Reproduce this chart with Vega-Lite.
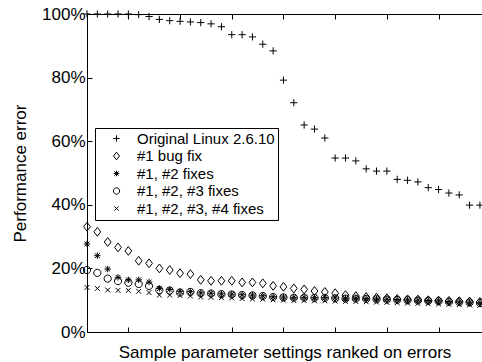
{
"$schema": "https://vega.github.io/schema/vega-lite/v6.json",
"width": 395, "height": 318,
"autosize": {"type": "none"},
"padding": {"left": 87, "top": 14, "right": 0, "bottom": 30},
"config": {"view": {"stroke": null}, "font": "Liberation Sans", "axis": {"domainColor": "black", "tickColor": "black", "labelColor": "black", "titleColor": "black", "grid": false, "titleFontWeight": "normal", "domainWidth": 1, "tickWidth": 1}},
"data": {"values": [
{"i":1,"s":"Original Linux 2.6.10","v":100},{"i":2,"s":"Original Linux 2.6.10","v":100},{"i":3,"s":"Original Linux 2.6.10","v":100},{"i":4,"s":"Original Linux 2.6.10","v":100},{"i":5,"s":"Original Linux 2.6.10","v":100},{"i":6,"s":"Original Linux 2.6.10","v":99.8},{"i":7,"s":"Original Linux 2.6.10","v":99.2},{"i":8,"s":"Original Linux 2.6.10","v":98.3},{"i":9,"s":"Original Linux 2.6.10","v":97.9},{"i":10,"s":"Original Linux 2.6.10","v":97.7},{"i":11,"s":"Original Linux 2.6.10","v":97.5},{"i":12,"s":"Original Linux 2.6.10","v":97.3},{"i":13,"s":"Original Linux 2.6.10","v":96.9},{"i":14,"s":"Original Linux 2.6.10","v":96.0},{"i":15,"s":"Original Linux 2.6.10","v":93.5},{"i":16,"s":"Original Linux 2.6.10","v":93.5},{"i":17,"s":"Original Linux 2.6.10","v":92.8},{"i":18,"s":"Original Linux 2.6.10","v":90.5},{"i":19,"s":"Original Linux 2.6.10","v":88.4},{"i":20,"s":"Original Linux 2.6.10","v":79.2},{"i":21,"s":"Original Linux 2.6.10","v":72.1},{"i":22,"s":"Original Linux 2.6.10","v":65.1},{"i":23,"s":"Original Linux 2.6.10","v":63.8},{"i":24,"s":"Original Linux 2.6.10","v":61.0},{"i":25,"s":"Original Linux 2.6.10","v":54.7},{"i":26,"s":"Original Linux 2.6.10","v":54.7},{"i":27,"s":"Original Linux 2.6.10","v":53.8},{"i":28,"s":"Original Linux 2.6.10","v":51.3},{"i":29,"s":"Original Linux 2.6.10","v":50.6},{"i":30,"s":"Original Linux 2.6.10","v":50.6},{"i":31,"s":"Original Linux 2.6.10","v":48.0},{"i":32,"s":"Original Linux 2.6.10","v":47.7},{"i":33,"s":"Original Linux 2.6.10","v":47.2},{"i":34,"s":"Original Linux 2.6.10","v":45.4},{"i":35,"s":"Original Linux 2.6.10","v":44.8},{"i":36,"s":"Original Linux 2.6.10","v":43.7},{"i":37,"s":"Original Linux 2.6.10","v":43.1},{"i":38,"s":"Original Linux 2.6.10","v":39.9},{"i":39,"s":"Original Linux 2.6.10","v":39.9},
{"i":1,"s":"#1 bug fix","v":33.1},{"i":2,"s":"#1 bug fix","v":31.5},{"i":3,"s":"#1 bug fix","v":28.3},{"i":4,"s":"#1 bug fix","v":26.6},{"i":5,"s":"#1 bug fix","v":25.5},{"i":6,"s":"#1 bug fix","v":22.4},{"i":7,"s":"#1 bug fix","v":21.6},{"i":8,"s":"#1 bug fix","v":20.0},{"i":9,"s":"#1 bug fix","v":19.5},{"i":10,"s":"#1 bug fix","v":18.5},{"i":11,"s":"#1 bug fix","v":18.2},{"i":12,"s":"#1 bug fix","v":16.4},{"i":13,"s":"#1 bug fix","v":16.1},{"i":14,"s":"#1 bug fix","v":16.1},{"i":15,"s":"#1 bug fix","v":16.1},{"i":16,"s":"#1 bug fix","v":15.6},{"i":17,"s":"#1 bug fix","v":15.6},{"i":18,"s":"#1 bug fix","v":15.3},{"i":19,"s":"#1 bug fix","v":14.5},{"i":20,"s":"#1 bug fix","v":14.2},{"i":21,"s":"#1 bug fix","v":13.7},{"i":22,"s":"#1 bug fix","v":13.4},{"i":23,"s":"#1 bug fix","v":12.9},{"i":24,"s":"#1 bug fix","v":12.6},{"i":25,"s":"#1 bug fix","v":12.2},{"i":26,"s":"#1 bug fix","v":11.6},{"i":27,"s":"#1 bug fix","v":11.3},{"i":28,"s":"#1 bug fix","v":11.0},{"i":29,"s":"#1 bug fix","v":10.8},{"i":30,"s":"#1 bug fix","v":10.6},{"i":31,"s":"#1 bug fix","v":10.4},{"i":32,"s":"#1 bug fix","v":10.3},{"i":33,"s":"#1 bug fix","v":10.2},{"i":34,"s":"#1 bug fix","v":10.0},{"i":35,"s":"#1 bug fix","v":9.9},{"i":36,"s":"#1 bug fix","v":9.8},{"i":37,"s":"#1 bug fix","v":9.7},{"i":38,"s":"#1 bug fix","v":9.6},{"i":39,"s":"#1 bug fix","v":9.5},
{"i":1,"s":"#1, #2 fixes","v":27.7},{"i":2,"s":"#1, #2 fixes","v":24.0},{"i":3,"s":"#1, #2 fixes","v":19.8},{"i":4,"s":"#1, #2 fixes","v":17.2},{"i":5,"s":"#1, #2 fixes","v":16.4},{"i":6,"s":"#1, #2 fixes","v":16.4},{"i":7,"s":"#1, #2 fixes","v":15.7},{"i":8,"s":"#1, #2 fixes","v":13.7},{"i":9,"s":"#1, #2 fixes","v":13.4},{"i":10,"s":"#1, #2 fixes","v":12.8},{"i":11,"s":"#1, #2 fixes","v":12.7},{"i":12,"s":"#1, #2 fixes","v":12.3},{"i":13,"s":"#1, #2 fixes","v":12.2},{"i":14,"s":"#1, #2 fixes","v":12.0},{"i":15,"s":"#1, #2 fixes","v":11.9},{"i":16,"s":"#1, #2 fixes","v":11.7},{"i":17,"s":"#1, #2 fixes","v":11.6},{"i":18,"s":"#1, #2 fixes","v":11.4},{"i":19,"s":"#1, #2 fixes","v":11.1},{"i":20,"s":"#1, #2 fixes","v":11.0},{"i":21,"s":"#1, #2 fixes","v":10.9},{"i":22,"s":"#1, #2 fixes","v":10.9},{"i":23,"s":"#1, #2 fixes","v":10.8},{"i":24,"s":"#1, #2 fixes","v":10.8},{"i":25,"s":"#1, #2 fixes","v":10.7},{"i":26,"s":"#1, #2 fixes","v":10.6},{"i":27,"s":"#1, #2 fixes","v":10.6},{"i":28,"s":"#1, #2 fixes","v":10.5},{"i":29,"s":"#1, #2 fixes","v":10.4},{"i":30,"s":"#1, #2 fixes","v":10.3},{"i":31,"s":"#1, #2 fixes","v":10.2},{"i":32,"s":"#1, #2 fixes","v":10.1},{"i":33,"s":"#1, #2 fixes","v":10.0},{"i":34,"s":"#1, #2 fixes","v":9.9},{"i":35,"s":"#1, #2 fixes","v":9.8},{"i":36,"s":"#1, #2 fixes","v":9.6},{"i":37,"s":"#1, #2 fixes","v":9.5},{"i":38,"s":"#1, #2 fixes","v":9.4},{"i":39,"s":"#1, #2 fixes","v":9.2},
{"i":1,"s":"#1, #2, #3 fixes","v":19.5},{"i":2,"s":"#1, #2, #3 fixes","v":18.6},{"i":3,"s":"#1, #2, #3 fixes","v":16.8},{"i":4,"s":"#1, #2, #3 fixes","v":16.0},{"i":5,"s":"#1, #2, #3 fixes","v":15.5},{"i":6,"s":"#1, #2, #3 fixes","v":15.1},{"i":7,"s":"#1, #2, #3 fixes","v":14.5},{"i":8,"s":"#1, #2, #3 fixes","v":13.2},{"i":9,"s":"#1, #2, #3 fixes","v":13.0},{"i":10,"s":"#1, #2, #3 fixes","v":12.4},{"i":11,"s":"#1, #2, #3 fixes","v":12.6},{"i":12,"s":"#1, #2, #3 fixes","v":12.2},{"i":13,"s":"#1, #2, #3 fixes","v":12.1},{"i":14,"s":"#1, #2, #3 fixes","v":11.9},{"i":15,"s":"#1, #2, #3 fixes","v":11.8},{"i":16,"s":"#1, #2, #3 fixes","v":11.6},{"i":17,"s":"#1, #2, #3 fixes","v":11.5},{"i":18,"s":"#1, #2, #3 fixes","v":11.3},{"i":19,"s":"#1, #2, #3 fixes","v":11.0},{"i":20,"s":"#1, #2, #3 fixes","v":10.9},{"i":21,"s":"#1, #2, #3 fixes","v":10.8},{"i":22,"s":"#1, #2, #3 fixes","v":10.8},{"i":23,"s":"#1, #2, #3 fixes","v":10.7},{"i":24,"s":"#1, #2, #3 fixes","v":10.7},{"i":25,"s":"#1, #2, #3 fixes","v":10.6},{"i":26,"s":"#1, #2, #3 fixes","v":10.5},{"i":27,"s":"#1, #2, #3 fixes","v":10.5},{"i":28,"s":"#1, #2, #3 fixes","v":10.4},{"i":29,"s":"#1, #2, #3 fixes","v":10.3},{"i":30,"s":"#1, #2, #3 fixes","v":10.2},{"i":31,"s":"#1, #2, #3 fixes","v":10.1},{"i":32,"s":"#1, #2, #3 fixes","v":10.0},{"i":33,"s":"#1, #2, #3 fixes","v":9.9},{"i":34,"s":"#1, #2, #3 fixes","v":9.8},{"i":35,"s":"#1, #2, #3 fixes","v":9.7},{"i":36,"s":"#1, #2, #3 fixes","v":9.5},{"i":37,"s":"#1, #2, #3 fixes","v":9.4},{"i":38,"s":"#1, #2, #3 fixes","v":9.3},{"i":39,"s":"#1, #2, #3 fixes","v":9.1},
{"i":1,"s":"#1, #2, #3, #4 fixes","v":14.0},{"i":2,"s":"#1, #2, #3, #4 fixes","v":13.7},{"i":3,"s":"#1, #2, #3, #4 fixes","v":13.2},{"i":4,"s":"#1, #2, #3, #4 fixes","v":13.1},{"i":5,"s":"#1, #2, #3, #4 fixes","v":13.1},{"i":6,"s":"#1, #2, #3, #4 fixes","v":12.8},{"i":7,"s":"#1, #2, #3, #4 fixes","v":12.4},{"i":8,"s":"#1, #2, #3, #4 fixes","v":11.6},{"i":9,"s":"#1, #2, #3, #4 fixes","v":11.6},{"i":10,"s":"#1, #2, #3, #4 fixes","v":11.5},{"i":11,"s":"#1, #2, #3, #4 fixes","v":11.3},{"i":12,"s":"#1, #2, #3, #4 fixes","v":11.0},{"i":13,"s":"#1, #2, #3, #4 fixes","v":10.9},{"i":14,"s":"#1, #2, #3, #4 fixes","v":10.8},{"i":15,"s":"#1, #2, #3, #4 fixes","v":10.7},{"i":16,"s":"#1, #2, #3, #4 fixes","v":10.5},{"i":17,"s":"#1, #2, #3, #4 fixes","v":10.4},{"i":18,"s":"#1, #2, #3, #4 fixes","v":10.3},{"i":19,"s":"#1, #2, #3, #4 fixes","v":10.1},{"i":20,"s":"#1, #2, #3, #4 fixes","v":10.0},{"i":21,"s":"#1, #2, #3, #4 fixes","v":9.9},{"i":22,"s":"#1, #2, #3, #4 fixes","v":9.9},{"i":23,"s":"#1, #2, #3, #4 fixes","v":9.8},{"i":24,"s":"#1, #2, #3, #4 fixes","v":9.8},{"i":25,"s":"#1, #2, #3, #4 fixes","v":9.7},{"i":26,"s":"#1, #2, #3, #4 fixes","v":9.6},{"i":27,"s":"#1, #2, #3, #4 fixes","v":9.6},{"i":28,"s":"#1, #2, #3, #4 fixes","v":9.5},{"i":29,"s":"#1, #2, #3, #4 fixes","v":9.4},{"i":30,"s":"#1, #2, #3, #4 fixes","v":9.3},{"i":31,"s":"#1, #2, #3, #4 fixes","v":9.2},{"i":32,"s":"#1, #2, #3, #4 fixes","v":9.1},{"i":33,"s":"#1, #2, #3, #4 fixes","v":9.0},{"i":34,"s":"#1, #2, #3, #4 fixes","v":8.9},{"i":35,"s":"#1, #2, #3, #4 fixes","v":8.8},{"i":36,"s":"#1, #2, #3, #4 fixes","v":8.7},{"i":37,"s":"#1, #2, #3, #4 fixes","v":8.6},{"i":38,"s":"#1, #2, #3, #4 fixes","v":8.5},{"i":39,"s":"#1, #2, #3, #4 fixes","v":8.4}
]},
"layer": [
{"mark": {"type": "point", "filled": false, "color": "black", "strokeWidth": 1, "size": 64, "opacity": 1},
 "encoding": {
  "x": {"field": "i", "type": "quantitative", "scale": {"domain": [1, 39.2], "nice": false, "zero": false},
        "axis": {"orient": "bottom", "values": [5,10,15,20,25,30,35], "labels": false, "tickSize": -5, "title": "Sample parameter settings ranked on errors", "titleFontSize": 17, "titlePadding": 12}},
  "y": {"field": "v", "type": "quantitative", "scale": {"domain": [0, 100], "nice": false},
        "axis": {"values": [0,20,40,60,80,100], "labelExpr": "datum.value + '%'", "tickSize": -5, "labelPadding": 7, "labelFontSize": 17, "title": "Performance error", "titleFontSize": 17, "titlePadding": 12}},
  "shape": {"field": "s", "type": "nominal",
    "scale": {"domain": ["Original Linux 2.6.10", "#1 bug fix", "#1, #2 fixes", "#1, #2, #3 fixes", "#1, #2, #3, #4 fixes"],
              "range": ["M-0.9,0H0.9M0,-0.9V0.9", "M0,-1.1L0.85,0L0,1.1L-0.85,0Z", "M-0.8,0H0.8M0,-0.8V0.8M-0.6,-0.6L0.6,0.6M-0.6,0.6L0.6,-0.6", "M0.9,0A0.9,0.9,0,1,1,-0.9,0A0.9,0.9,0,1,1,0.9,0Z", "M-0.6,-0.6L0.6,0.6M-0.6,0.6L0.6,-0.6"]},
    "legend": {"orient": "none", "legendX": 8, "legendY": 114, "title": null, "strokeColor": "black", "fillColor": "white", "padding": 3, "labelFontSize": 15, "labelColor": "black", "symbolSize": 49, "symbolStrokeWidth": 1, "symbolStrokeColor": "black", "symbolOffset": 11, "labelOffset": 13, "rowPadding": 1.5}}
 }},
{"mark": {"type": "point", "opacity": 0},
 "encoding": {
  "x": {"field": "i", "type": "quantitative", "axis": {"orient": "top", "values": [5,10,15,20,25,30,35], "labels": false, "tickSize": -5, "title": null}},
  "y": {"field": "v", "type": "quantitative", "axis": null}
 }}
],
"resolve": {"axis": {"x": "independent", "y": "independent"}}
}
